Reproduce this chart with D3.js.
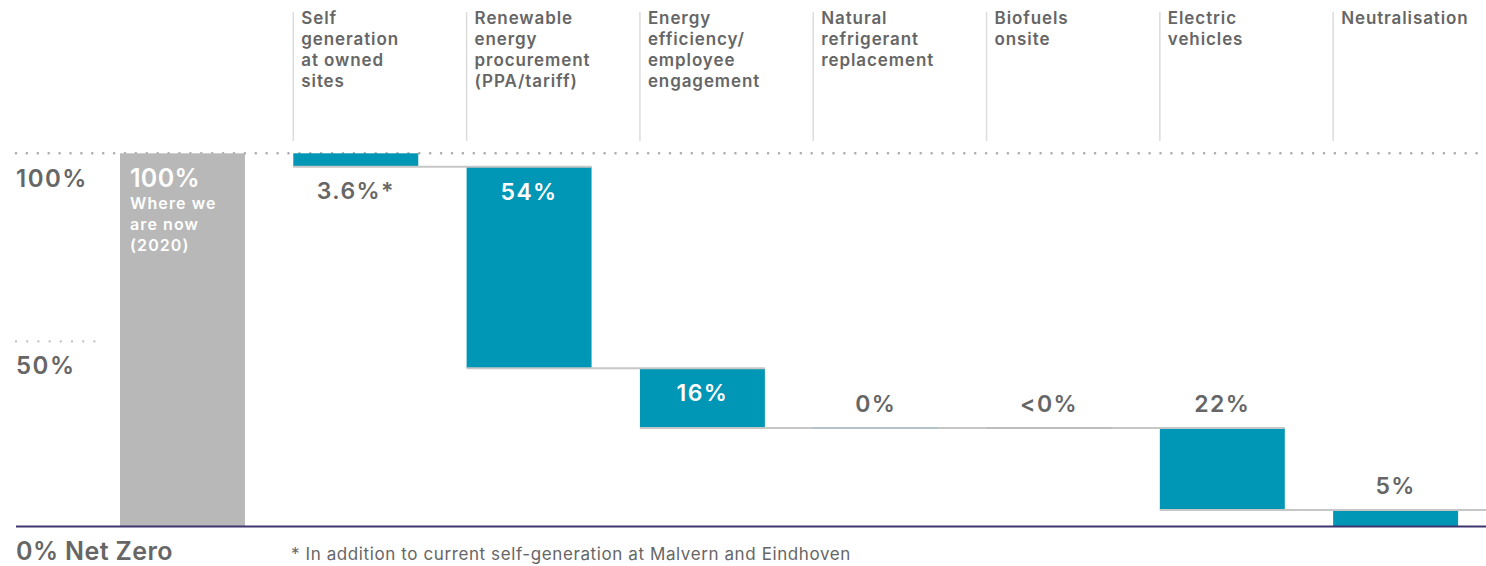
<!DOCTYPE html>
<html>
<head>
<meta charset="utf-8">
<script src="https://cdn.jsdelivr.net/npm/d3@7"></script>
<style>
  body { margin: 0; background: #fff; }
  svg { display: block; font-family: Inter, "Noto Sans", sans-serif; }
</style>
</head>
<body>
<div id="chart"></div>
<script>
// Step categories (column headers), one per waterfall bar after the start bar
const categories = [
  ["Self", "generation", "at owned", "sites"],
  ["Renewable", "energy", "procurement", "(PPA/tariff)"],
  ["Energy", "efficiency/", "employee", "engagement"],
  ["Natural", "refrigerant", "replacement"],
  ["Biofuels", "onsite"],
  ["Electric", "vehicles"],
  ["Neutralisation"]
];
const startValue = 100;
const stepValues = [3.6, 54, 16, 0, 0, 22, 5];
const stepLabels = ["3.6%*", "54%", "16%", "0%", "<0%", "22%", "5%"];
const labelPlacement = ["below", "in", "in", "above", "above", "above", "above"];
const startLabel = ["100%", "Where we", "are now", "(2020)"];
const yTicks = [100, 50];
const footnote = "* In addition to current self-generation at Malvern and Eindhoven";

const W = 1486, H = 566;
const teal = "#0096b5", grey = "#b8b8b8", text = "#666";

const svg = d3.select("#chart").append("svg")
  .attr("width", W).attr("height", H);

// Scales
const y = d3.scaleLinear().domain([0, 100]).range([526.5, 153.3]);
const x = d3.scaleBand()
  .domain(d3.range(stepValues.length + 1))
  .range([120, 120 + 8 * 173.3 - 48.3])
  .paddingInner(0.279)
  .paddingOuter(0);
const bw = x.bandwidth();

// Build the waterfall steps
let level = startValue;
const steps = stepValues.map((v, i) => {
  const top = level;
  const bottom = Math.max(0, level - v);
  level = level - v;
  return { i: i + 1, top, bottom, v, label: stepLabels[i], place: labelPlacement[i] };
});

// Top dotted line (100%) and short 50% dotted line
svg.append("line")
  .attr("x1", 16).attr("x2", W).attr("y1", y(100)).attr("y2", y(100))
  .attr("stroke", "#aaa").attr("stroke-width", 2.6)
  .attr("stroke-linecap", "round").attr("stroke-dasharray", "0 10.9");
svg.append("line")
  .attr("x1", 16).attr("x2", 96).attr("y1", y(50) + 1.5).attr("y2", y(50) + 1.5)
  .attr("stroke", "#bbb").attr("stroke-width", 2.2)
  .attr("stroke-linecap", "round").attr("stroke-dasharray", "0 11.2");

// Column separators and header labels
categories.forEach((lines, i) => {
  const cx = x(i + 1);
  svg.append("line")
    .attr("x1", cx).attr("x2", cx).attr("y1", 12).attr("y2", 141)
    .attr("stroke", "#dcdcdc").attr("stroke-width", 1.5);
  const t = svg.append("text")
    .attr("x", cx + 8).attr("y", 24)
    .attr("fill", text).attr("font-size", 17).attr("font-weight", 600)
    .attr("letter-spacing", 0.9);
  lines.forEach((l, k) => {
    t.append("tspan").attr("x", cx + 8).attr("y", 24 + k * 21).text(l);
  });
});

// Start bar
svg.append("rect")
  .attr("x", x(0)).attr("width", bw)
  .attr("y", y(startValue)).attr("height", y(0) - y(startValue))
  .attr("fill", grey);

// Step bars
svg.selectAll("rect.step").data(steps.filter(d => d.v > 0)).enter()
  .append("rect").attr("class", "step")
  .attr("x", d => x(d.i)).attr("width", bw)
  .attr("y", d => y(d.top)).attr("height", d => y(d.bottom) - y(d.top))
  .attr("fill", teal);

// Connectors: from each bar's bottom across to the end of the next bar
steps.forEach((d, k) => {
  if (k === steps.length - 1) return;
  const isPenultimate = k === steps.length - 2;
  svg.append("line")
    .attr("x1", x(d.i)).attr("x2", isPenultimate ? W : x(d.i + 1) + bw)
    .attr("y1", y(d.bottom)).attr("y2", y(d.bottom))
    .attr("stroke", "#c6c6c6").attr("stroke-width", 2);
});

// Zero-height steps as thin marks
steps.filter(d => d.v === 0).forEach((d, k) => {
  svg.append("line")
    .attr("x1", x(d.i)).attr("x2", x(d.i) + bw)
    .attr("y1", y(d.top)).attr("y2", y(d.top))
    .attr("stroke", k === 0 ? "#b3c2c8" : "#bdbdbd").attr("stroke-width", 2);
});

// Baseline
svg.append("line")
  .attr("x1", 16).attr("x2", W).attr("y1", y(0)).attr("y2", y(0))
  .attr("stroke", "#3c356f").attr("stroke-width", 2);

// Step value labels
steps.forEach(d => {
  let ly;
  if (d.place === "in") ly = y(d.top) + 33;
  else if (d.place === "below") ly = y(d.bottom) + 32;
  else ly = y(d.top) - 16;
  svg.append("text")
    .attr("x", x(d.i) + bw / 2).attr("y", ly)
    .attr("text-anchor", "middle")
    .attr("fill", d.place === "in" ? "#fff" : text)
    .attr("font-size", 23).attr("font-weight", 600)
    .attr("letter-spacing", 1.4)
    .text(d.label);
});

// Start bar labels
svg.append("text")
  .attr("x", x(0) + 10).attr("y", 187)
  .attr("fill", "#fff").attr("font-size", 25).attr("font-weight", 600)
  .attr("letter-spacing", 0.3)
  .text(startLabel[0]);
startLabel.slice(1).forEach((l, k) => {
  svg.append("text")
    .attr("x", x(0) + 10).attr("y", 209 + k * 21)
    .attr("fill", "#fff").attr("font-size", 16).attr("font-weight", 600)
    .attr("letter-spacing", 1.1)
    .text(l);
});

// Y labels
yTicks.forEach(v => {
  svg.append("text")
    .attr("x", 16).attr("y", y(v) + 34)
    .attr("fill", text).attr("font-size", 24).attr("font-weight", 600)
    .attr("letter-spacing", 1.5)
    .text(v + "%");
});
svg.append("text")
  .attr("x", 16).attr("y", 560)
  .attr("fill", text).attr("font-size", 25).attr("font-weight", 600)
  .attr("letter-spacing", 0.4)
  .text("0% Net Zero");

// Footnote
svg.append("text")
  .attr("x", 291).attr("y", 560)
  .attr("fill", text).attr("font-size", 17)
  .attr("letter-spacing", 0.6)
  .text(footnote);
</script>
</body>
</html>
